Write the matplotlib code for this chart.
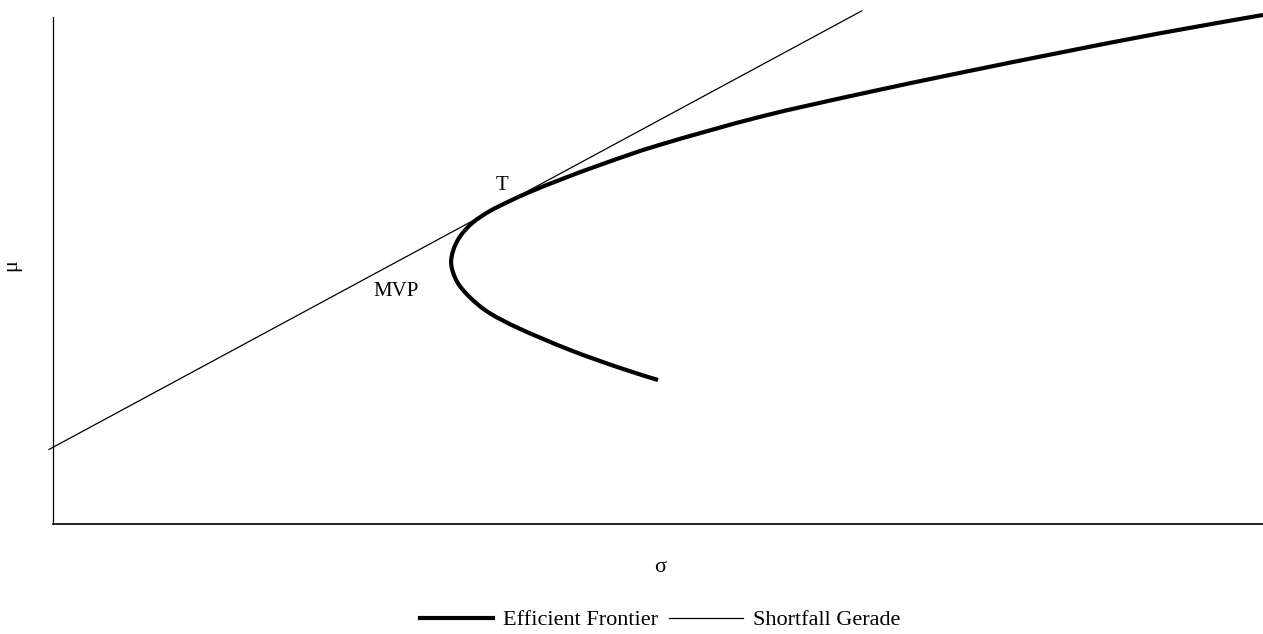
import matplotlib
matplotlib.use("Agg")
import matplotlib.pyplot as plt
import numpy as np
from matplotlib.lines import Line2D
from matplotlib.path import Path
from matplotlib.patches import PathPatch

plt.rcParams['font.family'] = ['Liberation Serif', 'DejaVu Serif']

# Efficient frontier (sigma, mu)
frontier_sigma = [6.00, 5.62, 5.13, 4.63, 4.33, 4.14, 4.01, 3.95, 3.97, 4.04, 4.16,
                  4.33, 4.53, 4.73, 5.03, 5.45, 6.02, 7.01, 8.00, 9.00, 10.02,
                  10.98, 12.00]
frontier_mu = [2.84, 3.08, 3.43, 3.85, 4.16, 4.46, 4.77, 5.11, 5.40, 5.68, 5.94,
               6.17, 6.37, 6.55, 6.79, 7.10, 7.48, 8.03, 8.48, 8.90, 9.31,
               9.68, 10.04]

# Shortfall line
line_sigma = [-0.04, 8.02]
line_mu = [1.47, 10.12]

labels = ["T", "MVP"]
label_sigma = [4.45, 3.40]
label_mu = [6.67, 4.58]

W, H = 1263, 634
fig = plt.figure(figsize=(W / 100, H / 100), dpi=100)
ax = fig.add_axes([53 / W, (H - 524) / H, 1210 / W, 507 / H])
ax.set_xlim(0, 12)
ax.set_ylim(0, 10)


def smooth_path(xs, ys):
    # Catmull-Rom curve through the read points, drawn as cubic Bezier segments
    P = np.column_stack([xs, ys])
    n = len(P)
    verts = [P[0]]
    codes = [Path.MOVETO]
    for i in range(n - 1):
        p0 = P[i - 1] if i > 0 else P[i]
        p3 = P[i + 2] if i + 2 < n else P[i + 1]
        c1 = P[i] + (P[i + 1] - p0) / 6.0
        c2 = P[i + 1] - (p3 - P[i]) / 6.0
        verts += [c1, c2, P[i + 1]]
        codes += [Path.CURVE4] * 3
    return Path(verts, codes)


patch = PathPatch(smooth_path(frontier_sigma, frontier_mu), facecolor='none',
                  edgecolor='black', lw=3.0, capstyle='butt', joinstyle='round',
                  transform=ax.transData, clip_on=False)
ax.add_patch(patch)
ax.plot(line_sigma, line_mu, color='black', lw=0.9, clip_on=False)

for t, x, y in zip(labels, label_sigma, label_mu):
    ax.text(x, y, t, fontsize=15, ha='center', va='center')

for s in ['top', 'right']:
    ax.spines[s].set_visible(False)
ax.spines['left'].set_linewidth(0.9)
ax.spines['bottom'].set_linewidth(1.2)
ax.set_xticks([])
ax.set_yticks([])

fig.text(660 / W, 1 - 567 / H, "σ", fontsize=16, ha='center', va='center')
fig.text(12 / W, 1 - 265 / H, "μ", fontsize=16, ha='center', va='center', rotation=90)

handles = [Line2D([], [], color='black', lw=3.0),
           Line2D([], [], color='black', lw=0.9)]
fig.legend(handles, ["Efficient Frontier", "Shortfall Gerade"], loc='center',
           bbox_to_anchor=(660 / W, 1 - 620 / H), ncol=2, frameon=False,
           fontsize=16, handlelength=3.3, handletextpad=0.45, columnspacing=0.5,
           borderaxespad=0, borderpad=0)

fig.savefig("out.png", dpi=100)
